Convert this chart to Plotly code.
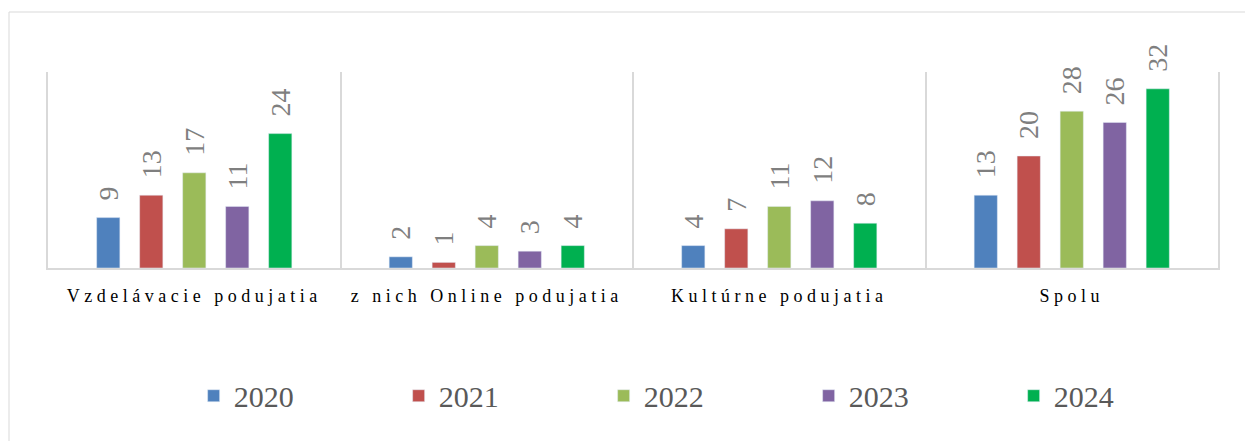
import plotly.graph_objects as go

categories = ["Vzdelávacie podujatia", "z nich Online podujatia", "Kultúrne podujatia", "Spolu"]
years = ["2020", "2021", "2022", "2023", "2024"]
values_2020 = [9, 2, 4, 13]
values_2021 = [13, 1, 7, 20]
values_2022 = [17, 4, 11, 28]
values_2023 = [11, 3, 12, 26]
values_2024 = [24, 4, 8, 32]
colors = ["#4F81BD", "#C0504D", "#9BBB59", "#8064A2", "#00B050"]

W, H = 1245, 441
L, R, T, B = 48, 27, 72, 173
SERIF = "Liberation Serif, Times New Roman, DejaVu Serif, serif"


def create_events_figure():
	series = [values_2020, values_2021, values_2022, values_2023, values_2024]
	fig = go.Figure()
	for year, vals, col in zip(years, series, colors):
		fig.add_trace(go.Bar(
			x=categories,
			y=vals,
			name=year,
			marker_color=col,
			text=vals,
			texttemplate="\u00a0\u00a0%{text}",
			textposition="outside",
			textangle=-90,
			constraintext="none",
			cliponaxis=False,
			textfont=dict(family=SERIF, size=28, color="#7f7f7f"),
		))
	fig.update_layout(
		width=W,
		height=H,
		margin=dict(l=L, r=R, t=T, b=B, autoexpand=False),
		paper_bgcolor="white",
		plot_bgcolor="white",
		barmode="group",
		bargap=0.265,
		bargroupgap=0.46,
		font=dict(family=SERIF, color="#000000"),
		legend=dict(
			orientation="h",
			x=0.5625,
			xanchor="center",
			y=-0.519,
			yanchor="top",
			entrywidth=160,
			font=dict(family=SERIF, size=30, color="#595959"),
		),
		showlegend=True,
	)
	# chart border (cropped at right and bottom in the original)
	fig.add_shape(
		type="rect",
		xref="paper", yref="paper",
		x0=(9 - L) / (W - L - R), x1=(W + 10 - L) / (W - L - R),
		y0=-(H + 10 - (H - B)) / (H - T - B), y1=1 + (T - 12) / (H - T - B),
		line=dict(color="#d9d9d9", width=1),
		layer="below",
	)
	fig.update_yaxes(
		range=[0, 35],
		showgrid=False,
		showticklabels=False,
		zeroline=False,
		showline=True,
		mirror=True,
		linecolor="#d9d9d9",
		linewidth=1.5,
	)
	fig.update_xaxes(
		tickson="boundaries",
		showgrid=True,
		gridcolor="#d9d9d9",
		gridwidth=1.5,
		showline=True,
		linecolor="#d9d9d9",
		linewidth=2,
		ticks="",
		ticklabelstandoff=10,
		tickfont=dict(family=SERIF, size=18, color="#000000"),
	)
	return fig


fig = create_events_figure()
# no page margin, letter-spaced category labels
post = ("document.body.style.margin='0';"
	"document.querySelectorAll('.xtick text').forEach(function(t){t.style.letterSpacing='4.5px';});")
fig.write_html("out.html", post_script=post, config={"displayModeBar": False})
